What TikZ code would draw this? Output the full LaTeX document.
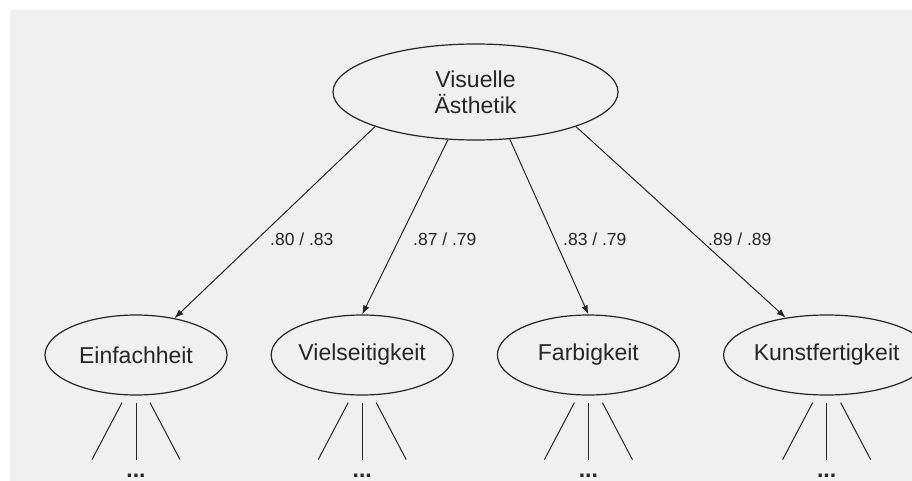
\documentclass[tikz,border=0pt]{standalone}
\usepackage{fontspec}
\setmainfont{Liberation Sans}
\usepackage{xcolor}
\usepackage{tikz}
\usetikzlibrary{positioning,arrows.meta,shapes.geometric,calc}

\definecolor{bggray}{HTML}{F0F0F0}
\definecolor{inkgray}{HTML}{262626}

\begin{document}
\begin{tikzpicture}[
    x=1pt, y=-1pt,
    node distance = 43pt,
    factor/.style  = {ellipse, draw=inkgray, line width=1.2pt, text=inkgray,
                      minimum width=182pt, minimum height=80pt, inner sep=0pt,
                      font=\fontsize{23}{26}\selectfont},
    general/.style = {factor, minimum width=285pt, minimum height=96pt, align=center},
    loading/.style = {font=\fontsize{17.5}{20}\selectfont, text=inkgray,
                      anchor=west, inner sep=0pt},
    more/.style    = {font=\fontsize{23}{26}\selectfont\bfseries, text=inkgray, inner sep=0pt},
    link/.style    = {line width=1pt, draw=inkgray, -{Latex[length=9pt,width=6.5pt]}},
    leg/.style     = {line width=1pt, draw=inkgray},
]
\useasboundingbox (0,0) rectangle (912,481);
\fill[bggray] (10,10) rectangle (912,481);

% second-order factor
\node[general] (vis) at (475.5,92) {Visuelle\\Ästhetik};

% first-order factors
\node[factor] (einf) at (136,355)  {Einfachheit};
\node[factor, right=of einf] (viel)  {Vielseitigkeit};
\node[factor, right=of viel] (farb)  {Farbigkeit};
\node[factor, right=of farb] (kunst) {Kunstfertigkeit};

\draw[link] (vis.199) -- (einf);
\draw[link] (vis.240) -- (viel.north);
\draw[link] (vis.306) -- (farb.north);
\draw[link] (vis.341) -- (kunst);

% loadings
\node[loading] (w-einf)  at (270,239) {.80 / .83};
\node[loading] (w-viel)  at (413,239) {.87 / .79};
\node[loading] (w-farb)  at (563,239) {.83 / .79};
\node[loading] (w-kunst) at (708,239) {.89 / .89};

% items (not shown)
\foreach \n in {einf,viel,farb,kunst}{
  \coordinate (\n-tl) at ($(\n.south)+(-14,7)$);
  \coordinate (\n-tc) at ($(\n.south)+(0,7)$);
  \coordinate (\n-tr) at ($(\n.south)+(14,7)$);
  \coordinate (\n-bl) at ($(\n.south)+(-44,64)$);
  \coordinate (\n-bc) at ($(\n.south)+(0,64)$);
  \coordinate (\n-br) at ($(\n.south)+(44,64)$);
  \draw[leg] (\n-tl) -- (\n-bl);
  \draw[leg] (\n-tc) -- (\n-bc);
  \draw[leg] (\n-tr) -- (\n-br);
  \node[more] (\n-dots) at ($(\n.south)+(0,80)$) {...};
}
\end{tikzpicture}
\end{document}
